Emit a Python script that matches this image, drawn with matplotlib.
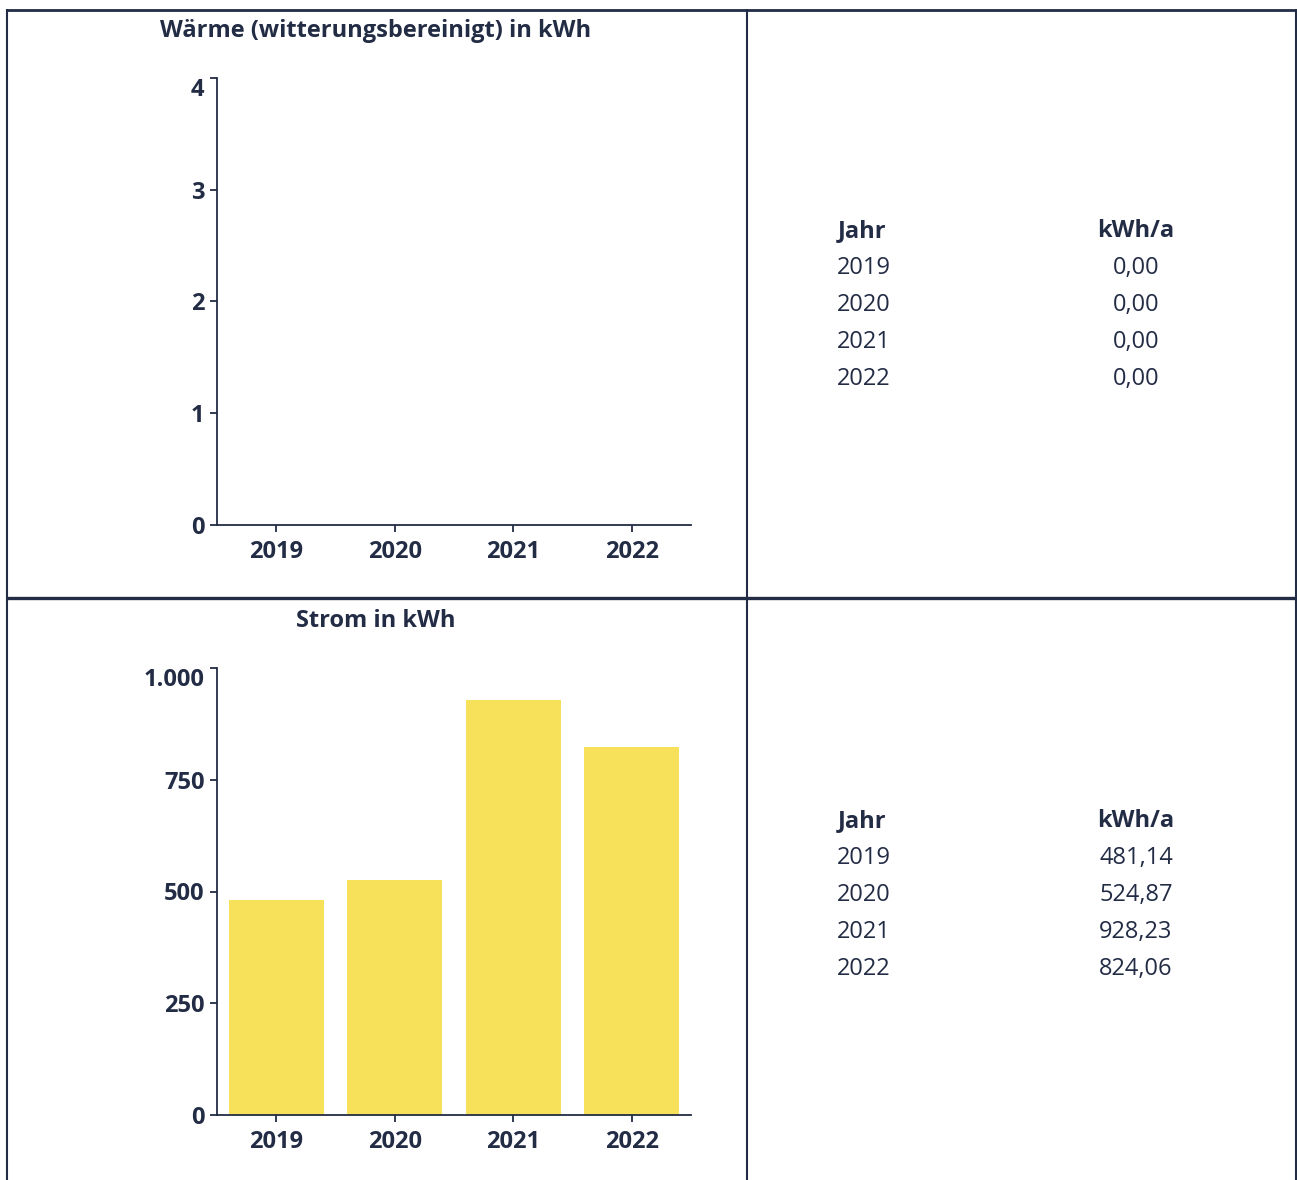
import matplotlib
matplotlib.use("Agg")
import matplotlib.pyplot as plt
from matplotlib.lines import Line2D
from matplotlib.ticker import FuncFormatter, FixedLocator
from matplotlib.transforms import ScaledTranslation

plt.rcParams['font.family'] = ['Open Sans', 'DejaVu Sans']

years = ["2019", "2020", "2021", "2022"]
waerme = [0.0, 0.0, 0.0, 0.0]
strom = [481.14, 524.87, 928.23, 824.06]
waerme_ticks = [0, 1, 2, 3, 4]
strom_ticks = [0, 250, 500, 750, 1000]
title_waerme = "Wärme (witterungsbereinigt) in kWh"
title_strom = "Strom in kWh"
table_header = ["Jahr", "kWh/a"]

NAVY = "#232c45"
BAR = "#f7e05a"
FS = 17
W, H = 1297, 1180
fig = plt.figure(figsize=(W / 100, H / 100), dpi=100)

def fx(px):
    return px / W

def fy(py):
    return 1 - py / H

def de(v):
    s = f"{v:,.2f}"
    return s.replace(",", "X").replace(".", ",").replace("X", ".")

def thousands(v, pos):
    s = f"{int(round(v)):,}"
    return s.replace(",", ".")

def make_chart(top_px, bottom_px, values, ticks, title, title_y):
    ax = fig.add_axes([fx(217), fy(bottom_px), fx(691) - fx(217), fy(top_px) - fy(bottom_px)])
    x = list(range(len(years)))
    ax.bar(x, values, width=0.8, color=BAR, zorder=1)
    ax.set_xlim(-0.5, 3.5)
    ax.set_ylim(ticks[0], ticks[-1])
    ax.set_xticks(x)
    ax.set_xticklabels(years)
    ax.yaxis.set_major_locator(FixedLocator(ticks))
    ax.yaxis.set_major_formatter(FuncFormatter(thousands))
    for s in ["top", "right"]:
        ax.spines[s].set_visible(False)
    for s in ["left", "bottom"]:
        ax.spines[s].set_color(NAVY)
        ax.spines[s].set_linewidth(1.3)
        ax.spines[s].set_zorder(3)
    ax.tick_params(axis="both", colors=NAVY, width=1.3, labelsize=FS)
    ax.tick_params(axis="y", length=5, pad=4)
    ax.tick_params(axis="x", length=5, pad=6)
    for lbl in ax.get_xticklabels() + ax.get_yticklabels():
        lbl.set_fontweight("bold")
        lbl.set_color(NAVY)
    top_lbl = ax.yaxis.get_major_ticks()[-1].label1
    top_lbl.set_transform(top_lbl.get_transform() +
                          ScaledTranslation(0, -9 / 100, fig.dpi_scale_trans))
    fig.text(fx(376), fy(title_y), title, ha="center", va="center",
             fontsize=FS, fontweight="bold", color=NAVY)
    return ax

make_chart(78, 525, waerme, waerme_ticks, title_waerme, 31)
make_chart(668, 1115, strom, strom_ticks, title_strom, 621)

def table(header_y, values):
    fig.text(fx(862), fy(header_y), table_header[0], ha="center", va="center",
             fontsize=FS, fontweight="bold", color=NAVY)
    fig.text(fx(1136), fy(header_y), table_header[1], ha="center", va="center",
             fontsize=FS, fontweight="bold", color=NAVY)
    for i, (yr, v) in enumerate(zip(years, values)):
        yy = header_y + 37 * (i + 1)
        fig.text(fx(863.5), fy(yy), yr, ha="center", va="center",
                 fontsize=FS, color=NAVY)
        fig.text(fx(1136), fy(yy), de(v), ha="center", va="center",
                 fontsize=FS, color=NAVY)

table(231, waerme)
table(821, strom)

# table frame lines
def hline(y, x0, x1, lw):
    fig.add_artist(Line2D([fx(x0), fx(x1)], [fy(y), fy(y)], color=NAVY, lw=lw,
                          transform=fig.transFigure, solid_capstyle="butt"))

def vline(x, y0, y1, lw):
    fig.add_artist(Line2D([fx(x), fx(x)], [fy(y0), fy(y1)], color=NAVY, lw=lw,
                          transform=fig.transFigure, solid_capstyle="butt"))

hline(10, 6, 1297, 2.0)
hline(598, 6, 1297, 2.4)
vline(7, 9, 1180, 1.5)
vline(747, 9, 1180, 1.5)
vline(1295.5, 9, 1180, 1.5)

fig.savefig("out.png", dpi=100)
